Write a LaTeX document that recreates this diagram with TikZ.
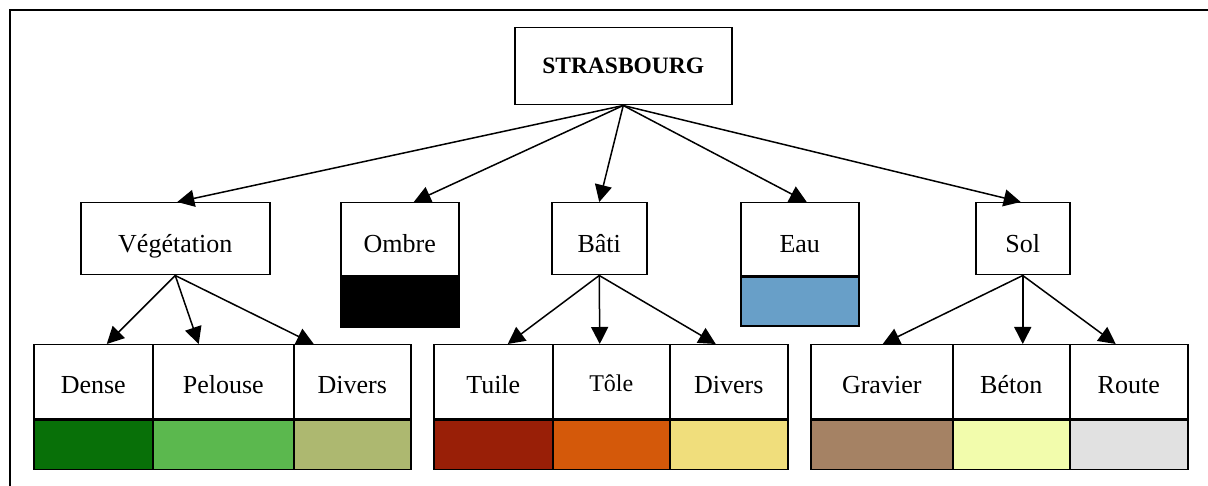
\documentclass[tikz,border=0pt]{standalone}
\usepackage{fontspec}
\setmainfont{Liberation Serif}
\usetikzlibrary{arrows.meta}
\definecolor{cDense}{HTML}{087008}
\definecolor{cPelouse}{HTML}{5BB84E}
\definecolor{cDiversV}{HTML}{ADB870}
\definecolor{cTuile}{HTML}{991F07}
\definecolor{cTole}{HTML}{D4590A}
\definecolor{cDiversB}{HTML}{F0DE7C}
\definecolor{cGravier}{HTML}{A58264}
\definecolor{cBeton}{HTML}{F2FCAC}
\definecolor{cRoute}{HTML}{E1E1E1}
\definecolor{cEau}{HTML}{689FC8}
\tikzset{
  box/.style={draw, line width=1.5pt, rectangle, inner sep=0pt, anchor=north west,
    font=\fontsize{26}{30}\selectfont},
  midbox/.style={box, minimum height=72pt, text height=30pt, text depth=2pt},
  topbox/.style={box, minimum height=73pt, text height=29pt, text depth=2pt},
  leafbox/.style={box, minimum height=74pt, text height=28pt, text depth=4pt},
  swatch/.style={draw, line width=1.5pt, rectangle, inner sep=0pt, anchor=north west},
  edge/.style={line width=1.5pt, -{Triangle[length=17pt,width=17pt]}},
}
\begin{document}
\begin{tikzpicture}[x=1pt,y=-1pt]
\useasboundingbox (0,0) rectangle (1208,486);
\draw[line width=2pt] (10,486) -- (10,10.5) -- (1208,10.5);
% root
\node[box, minimum width=217pt, minimum height=77pt, font=\fontsize{23.5}{28}\selectfont\bfseries] (root) at (514,27) {STRASBOURG};
% level 2
\node[midbox, minimum width=189pt] (veg) at (80,202) {Végétation};
\node[topbox, minimum width=118pt] (ombre) at (340,202) {Ombre};
\node[swatch, fill=black, minimum width=118pt, minimum height=50pt] (ombreC) at (ombre.south west) {};
\node[midbox, minimum width=95pt] (bati) at (551,202) {Bâti};
\node[topbox, minimum width=118pt] (eau) at (740,202) {Eau};
\node[swatch, fill=cEau, minimum width=118pt, minimum height=49pt] (eauC) at (eau.south west) {};
\node[midbox, minimum width=94pt] (sol) at (975,202) {Sol};
% level 3
\node[leafbox, minimum width=119pt] (dense) at (33,344) {Dense};
\node[leafbox, minimum width=141pt] (pelouse) at (152,344) {Pelouse};
\node[leafbox, minimum width=117pt] (diversV) at (293,344) {Divers};
\node[leafbox, minimum width=119pt] (tuile) at (433,344) {Tuile};
\node[leafbox, minimum width=117pt, text height=24pt, text depth=4pt, font=\fontsize{24}{28}\selectfont] (tole) at (552,344) {Tôle};
\node[leafbox, minimum width=118pt] (diversB) at (669,344) {Divers};
\node[leafbox, minimum width=142pt] (gravier) at (810,344) {Gravier};
\node[leafbox, minimum width=117pt] (beton) at (952,344) {Béton};
\node[leafbox, minimum width=118pt] (route) at (1069,344) {Route};
% swatches
\node[swatch, fill=cDense, minimum width=119pt, minimum height=49pt] (denseC) at (dense.south west) {};
\node[swatch, fill=cPelouse, minimum width=141pt, minimum height=49pt] (pelouseC) at (pelouse.south west) {};
\node[swatch, fill=cDiversV, minimum width=117pt, minimum height=49pt] (diversVC) at (diversV.south west) {};
\node[swatch, fill=cTuile, minimum width=119pt, minimum height=49pt] (tuileC) at (tuile.south west) {};
\node[swatch, fill=cTole, minimum width=117pt, minimum height=49pt] (toleC) at (tole.south west) {};
\node[swatch, fill=cDiversB, minimum width=118pt, minimum height=49pt] (diversBC) at (diversB.south west) {};
\node[swatch, fill=cGravier, minimum width=142pt, minimum height=49pt] (gravierC) at (gravier.south west) {};
\node[swatch, fill=cBeton, minimum width=117pt, minimum height=49pt] (betonC) at (beton.south west) {};
\node[swatch, fill=cRoute, minimum width=118pt, minimum height=49pt] (routeC) at (route.south west) {};
% edges level 1
\draw[edge] (root.south) -- ([xshift=2pt]veg.north);
\draw[edge] (root.south) -- ([xshift=14pt]ombre.north);
\draw[edge] (root.south) -- (bati.north);
\draw[edge] (root.south) -- ([xshift=7pt]eau.north);
\draw[edge] (root.south) -- ([xshift=-2pt]sol.north);
% edges level 2
\draw[edge] (veg.south) -- ([xshift=13.5pt]dense.north);
\draw[edge] (veg.south) -- ([xshift=-24.5pt]pelouse.north);
\draw[edge] (veg.south) -- ([xshift=-38.5pt]diversV.north);
\draw[edge] (bati.south) -- ([xshift=14.5pt]tuile.north);
\draw[edge] (bati.south) -- ([xshift=-11.5pt]tole.north);
\draw[edge] (bati.south) -- ([xshift=-13pt]diversB.north);
\draw[edge] (sol.south) -- ([xshift=1pt]gravier.north);
\draw[edge] (sol.south) -- ([xshift=11.5pt]beton.north);
\draw[edge] (sol.south) -- ([xshift=-13pt]route.north);
\end{tikzpicture}
\end{document}
